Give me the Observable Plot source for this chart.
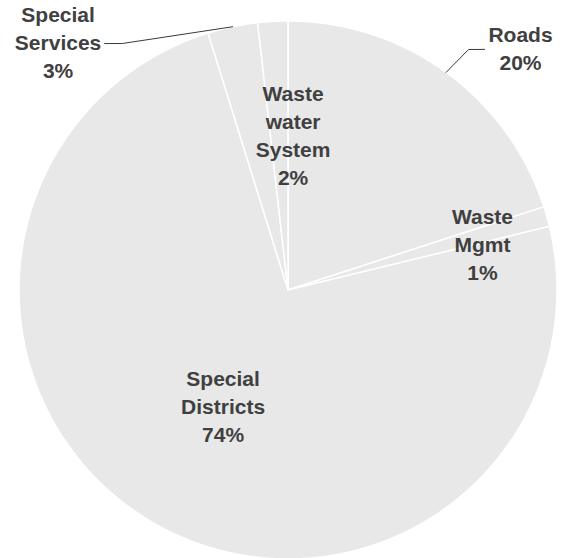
<!DOCTYPE html>
<html>
<head>
<meta charset="utf-8">
<script src="https://cdn.jsdelivr.net/npm/d3@7"></script>
<script src="https://cdn.jsdelivr.net/npm/@observablehq/plot@0.6"></script>
<style>
  html, body { margin: 0; padding: 0; background: #fff; }
  #chart svg { display: block; }
  #chart svg text { font-family: "Liberation Sans", Arial, sans-serif !important; }
</style>
</head>
<body>
<div id="chart"></div>
<script>
// ---- data ----
const categories = ["Roads", "Waste Mgmt", "Special Districts", "Special Services", "Waste water System"];
const nameLines  = [["Roads"], ["Waste", "Mgmt"], ["Special", "Districts"], ["Special", "Services"], ["Waste", "water", "System"]];
const shares     = [20.0, 1.2, 74.0, 3.0, 1.8];

// ---- layout (polar: angle in degrees clockwise from 12 o'clock, radius as fraction of pie radius) ----
const labelAngle  = [44.1, 77.3, 208.8, 316.9, 1.9];
const labelRadius = [1.242, 0.741, 0.501, 1.251, 0.569];
// leader lines for outside labels: [elbow, end] in polar
const leaderLayout = {
  "Roads": [[36.9, 1.118], [39.25, 1.155]],
  "Special Services": [[326.1, 1.104], [323.34, 1.142]]
};

const W = 569, H = 558;
const R = 269, CX = 287.5, CY = 289.5;

const rows = categories.map((c, i) => ({name: c, share: shares[i], i}));
const arcs = d3.pie().sort(null).value(d => d.share).startAngle(0).endAngle(2 * Math.PI)(rows);

const polar = (deg, r) => ({x: r * Math.sin(deg * Math.PI / 180), y: r * Math.cos(deg * Math.PI / 180)});

// slice outlines: centre + arc sampled along the circle
const slicePts = arcs.flatMap(a => {
  const n = Math.max(2, Math.ceil((a.endAngle - a.startAngle) / 0.005));
  const pts = [{name: a.data.name, x: 0, y: 0}];
  for (let k = 0; k <= n; k++) {
    const t = a.startAngle + (a.endAngle - a.startAngle) * k / n;
    pts.push({name: a.data.name, x: Math.sin(t), y: Math.cos(t)});
  }
  return pts;
});

const labels = arcs.map(a => {
  const i = a.data.i;
  const p = polar(labelAngle[i], labelRadius[i]);
  return {
    name: a.data.name,
    x: p.x, y: p.y,
    text: nameLines[i].join("\n") + "\n" + Math.round(a.data.share) + "%"
  };
});

const leaderPts = arcs.filter(a => leaderLayout[a.data.name]).flatMap(a => {
  const mid = (a.startAngle + a.endAngle) / 2 * 180 / Math.PI;
  const pts = [polar(mid, 1.0), ...leaderLayout[a.data.name].map(([ang, r]) => polar(ang, r))];
  return pts.map(p => ({name: a.data.name, ...p}));
});

const chart = Plot.plot({
  width: W,
  height: H,
  margin: 0,
  x: {domain: [-CX / R, (W - CX) / R], axis: null},
  y: {domain: [-(H - CY) / R, CY / R], axis: null},
  style: {fontFamily: "Liberation Sans, Arial, sans-serif", background: "white"},
  marks: [
    Plot.line(slicePts, {x: "x", y: "y", z: "name", fill: "#e8e8e8", stroke: "white", strokeWidth: 1.5, curve: "linear-closed"}),
    Plot.line(leaderPts, {x: "x", y: "y", z: "name", stroke: "#3a3a3a", strokeWidth: 1}),
    Plot.text(labels, {x: "x", y: "y", dy: -3, text: "text", fontSize: 21, fontWeight: "bold", fontFamily: "Liberation Sans", fill: "#404040", lineHeight: 1.333})
  ]
});
document.getElementById("chart").appendChild(chart);
</script>
</body>
</html>
